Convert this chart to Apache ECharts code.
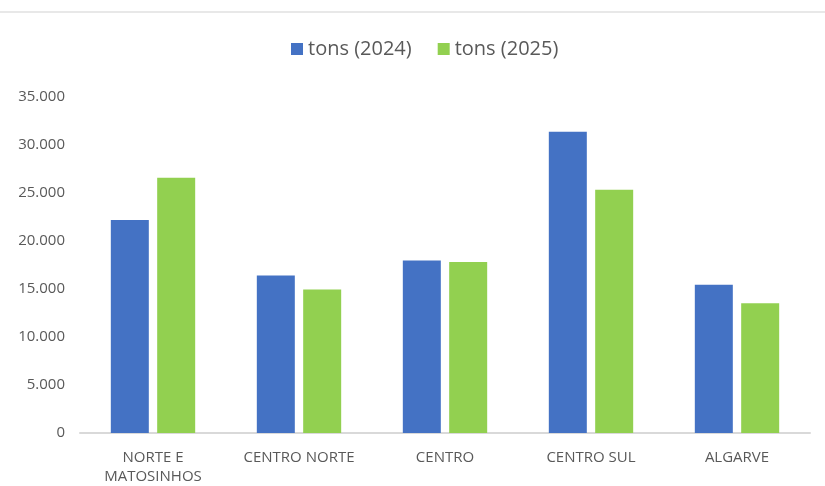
<!DOCTYPE html>
<html>
<head>
<meta charset="utf-8">
<script src="https://cdn.jsdelivr.net/npm/echarts@6/dist/echarts.min.js"></script>
<style>html,body{margin:0;padding:0;background:#fff}#c{width:825px;height:486px}</style>
</head>
<body>
<div id="c"></div>
<script>
var categories = ['NORTE E\nMATOSINHOS', 'CENTRO NORTE', 'CENTRO', 'CENTRO SUL', 'ALGARVE'];
var tons2024 = [22200, 16400, 17970, 31390, 15430];
var tons2025 = [26600, 14940, 17800, 25330, 13520];
var seriesNames = ['tons (2024)', 'tons (2025)'];

var chart = echarts.init(document.getElementById('c'));
var fontFam = '"Open Sans", "Noto Sans", sans-serif';
chart.setOption({
  animation: false,
  textStyle: { fontFamily: fontFam },
  graphic: [{
    type: 'line', shape: { x1: 0, y1: 12, x2: 825, y2: 12 },
    style: { stroke: '#e0e0e0', lineWidth: 1.5 }
  }],
  legend: {
    top: 34, left: 286,
    itemWidth: 12, itemHeight: 12, itemGap: 26,
    icon: 'rect',
    textStyle: { fontSize: 20, color: '#595959', fontFamily: fontFam }
  },
  grid: { left: 80, right: 15, top: 97, bottom: 53, containLabel: false },
  xAxis: {
    type: 'category', data: categories,
    axisLine: { lineStyle: { color: '#d9d9d9', width: 2 } },
    axisTick: { show: false },
    axisLabel: { color: '#595959', fontSize: 15, margin: 15, lineHeight: 19, fontFamily: fontFam }
  },
  yAxis: {
    type: 'value', min: 0, max: 35000, interval: 5000,
    splitLine: { show: false },
    axisLine: { show: false }, axisTick: { show: false },
    axisLabel: {
      color: '#595959', fontSize: 15, margin: 15, fontFamily: fontFam,
      formatter: function (v) { return v === 0 ? '0' : (v / 1000) + '.000'; }
    }
  },
  series: [
    { name: seriesNames[0], type: 'bar', data: tons2024, barWidth: 38, barGap: '22%',
      itemStyle: { color: '#4472c4' } },
    { name: seriesNames[1], type: 'bar', data: tons2025, barWidth: 38, barGap: '22%',
      itemStyle: { color: '#92d050' } }
  ]
});
</script>
</body>
</html>
